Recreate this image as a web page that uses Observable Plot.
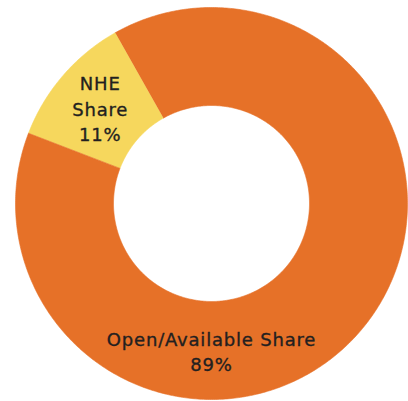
<!DOCTYPE html>
<html>
<head>
<meta charset="utf-8">
<script src="https://cdn.jsdelivr.net/npm/d3@7"></script>
<script src="https://cdn.jsdelivr.net/npm/@observablehq/plot@0.6"></script>
<style>
  html, body { margin: 0; padding: 0; background: #ffffff; }
  #chart svg { display: block; }
</style>
</head>
<body>
<div id="chart"></div>
<script>
// ---- data ----
const categories = ["NHE Share", "Open/Available Share"];
const shares = [11, 89];
const labelText = ["NHE\nShare", "Open/Available Share"];
const colors = ["#F6D75D", "#E67128"];

// ---- geometry helpers (unit circle, angles clockwise from top) ----
const startDeg = -69;
const innerR = 0.5;
const outerR = 1;

const pie = d3.pie().sort(null).value(d => d.value)
  .startAngle(startDeg * Math.PI / 180)
  .endAngle(startDeg * Math.PI / 180 + 2 * Math.PI);

const data = categories.map((c, i) => ({name: c, value: shares[i], label: labelText[i]}));
const arcs = pie(data);

const pts = [];
for (const a of arcs) {
  const n = Math.max(8, Math.ceil((a.endAngle - a.startAngle) / 0.01));
  const ring = [];
  for (let k = 0; k <= n; k++) {
    const t = a.startAngle + (a.endAngle - a.startAngle) * k / n;
    ring.push({name: a.data.name, x: outerR * Math.sin(t), y: outerR * Math.cos(t)});
  }
  for (let k = n; k >= 0; k--) {
    const t = a.startAngle + (a.endAngle - a.startAngle) * k / n;
    ring.push({name: a.data.name, x: innerR * Math.sin(t), y: innerR * Math.cos(t)});
  }
  pts.push(...ring);
}

// label positions: NHE at arc centroid, Open share at bottom of ring
const labelR = 0.75;
const labels = arcs.map(a => {
  const mid = a.data.name === "NHE Share" ? (a.startAngle + a.endAngle) / 2 : Math.PI;
  return {
    name: a.data.name,
    text: a.data.label + "\n" + a.data.value + "%",
    x: labelR * Math.sin(mid),
    y: labelR * Math.cos(mid)
  };
});

const cx = 211, cy = 203, R = 196;

const chart = Plot.plot({
  width: 408,
  height: 401,
  margin: 0,
  x: {domain: [-1, 1], range: [cx - R, cx + R], axis: null},
  y: {domain: [-1, 1], range: [cy + R, cy - R], axis: null},
  color: {domain: categories, range: colors},
  style: {background: "#ffffff"},
  marks: [
    Plot.line(pts, {x: "x", y: "y", z: "name", fill: "name", stroke: "name", strokeWidth: 0.6, curve: "linear"}),
    Plot.text(labels, {
      x: "x", y: "y", text: "text",
      fill: "#231F20",
      stroke: "#231F20",
      strokeWidth: 0.35,
      paintOrder: "normal",
      fontSize: 18,
      fontFamily: "DejaVu Sans",
      lineHeight: 1.42,
      textAnchor: "middle"
    })
  ]
});

chart.querySelectorAll("text").forEach(t => t.style.letterSpacing = "0.8px");
document.getElementById("chart").appendChild(chart);
</script>
</body>
</html>
